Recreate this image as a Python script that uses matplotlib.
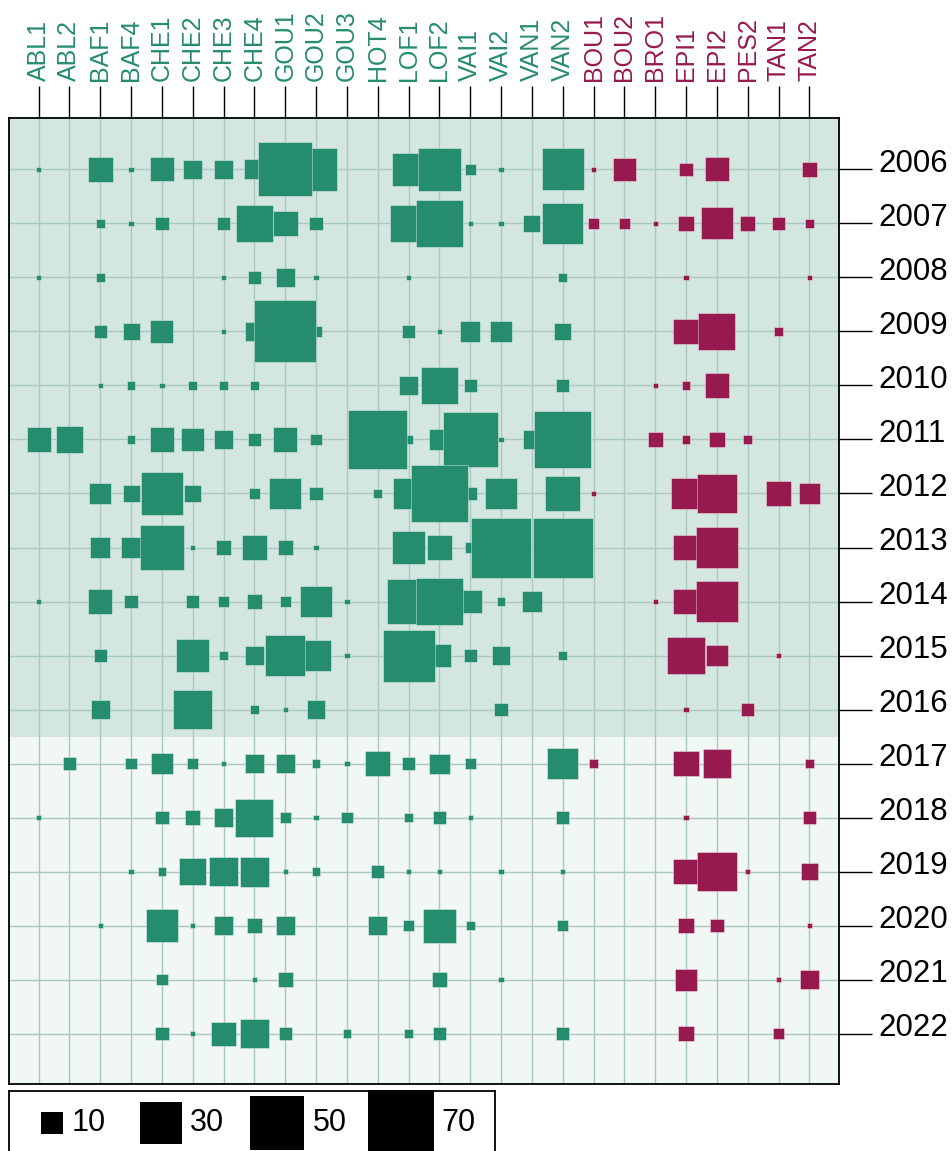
import numpy as np
import matplotlib.pyplot as plt
from matplotlib.transforms import ScaledTranslation

plt.rcParams['font.family'] = ['Liberation Sans', 'DejaVu Sans']

# Sites (columns) and their group: 0 = green sites, 1 = purple sites
sites = ["ABL1", "ABL2", "BAF1", "BAF4", "CHE1", "CHE2", "CHE3", "CHE4",
         "GOU1", "GOU2", "GOU3", "HOT4", "LOF1", "LOF2", "VAI1", "VAI2",
         "VAN1", "VAN2", "BOU1", "BOU2", "BRO1", "EPI1", "EPI2", "PES2",
         "TAN1", "TAN2"]
site_group = [0] * 18 + [1] * 8

years = list(range(2006, 2023))

# counts per year, one value per site (same order as sites)
counts = [
    # ABL1 ABL2 BAF1 BAF4 CHE1 CHE2 CHE3 CHE4 GOU1 GOU2 GOU3 HOT4 LOF1 LOF2 VAI1 VAI2 VAN1 VAN2 BOU1 BOU2 BRO1 EPI1 EPI2 PES2 TAN1 TAN2
    [1, 0, 12, 1, 11, 7, 7, 8, 48, 31, 0, 0, 19, 31, 3, 1, 0, 30, 1, 10, 0, 4, 11, 0, 0, 5],    # 2006
    [0, 0, 2, 1, 4, 0, 4, 23, 12, 4, 0, 0, 24, 38, 1, 1, 6, 29, 3, 3, 1, 5, 18, 5, 4, 2],      # 2007
    [1, 0, 2, 0, 0, 0, 1, 4, 7, 1, 0, 0, 1, 0, 0, 0, 0, 2, 0, 0, 0, 1, 0, 0, 0, 1],           # 2008
    [0, 0, 4, 6, 10, 0, 1, 7, 63, 3, 0, 0, 4, 1, 8, 9, 0, 6, 0, 0, 0, 12, 24, 0, 2, 0],        # 2009
    [0, 0, 1, 2, 1, 2, 2, 2, 0, 0, 0, 0, 7, 23, 4, 0, 0, 4, 0, 0, 1, 2, 11, 0, 0, 0],         # 2010
    [11, 14, 0, 2, 11, 10, 7, 4, 11, 3, 0, 57, 2, 9, 50, 1, 7, 54, 0, 0, 5, 2, 5, 2, 0, 0],   # 2011
    [0, 0, 9, 6, 31, 6, 0, 3, 18, 4, 0, 2, 17, 54, 4, 18, 0, 21, 1, 0, 0, 17, 27, 0, 12, 9],  # 2012
    [0, 0, 8, 8, 33, 1, 5, 12, 5, 1, 0, 0, 20, 12, 3, 59, 0, 59, 0, 0, 0, 12, 30, 0, 0, 0],   # 2013
    [1, 0, 11, 4, 0, 4, 3, 5, 3, 18, 1, 0, 33, 36, 10, 2, 8, 0, 0, 0, 1, 12, 30, 0, 0, 0],    # 2014
    [0, 0, 4, 0, 0, 19, 2, 7, 28, 17, 1, 0, 45, 10, 4, 7, 0, 2, 0, 0, 0, 24, 9, 0, 1, 0],     # 2015
    [0, 0, 7, 0, 0, 26, 0, 2, 1, 7, 0, 0, 0, 0, 0, 4, 0, 0, 0, 0, 0, 1, 0, 4, 0, 0],          # 2016
    [0, 4, 0, 3, 9, 3, 1, 7, 7, 2, 1, 12, 4, 8, 3, 0, 0, 17, 2, 0, 0, 12, 15, 0, 0, 2],       # 2017
    [1, 0, 0, 0, 4, 5, 7, 25, 3, 1, 3, 0, 2, 4, 1, 0, 0, 4, 0, 0, 0, 1, 0, 0, 0, 4],          # 2018
    [0, 0, 0, 1, 2, 13, 15, 16, 1, 2, 0, 4, 1, 1, 0, 1, 0, 1, 0, 0, 0, 12, 27, 1, 0, 6],      # 2019
    [0, 0, 1, 0, 19, 1, 7, 5, 7, 0, 0, 7, 3, 20, 2, 0, 0, 3, 0, 0, 0, 5, 4, 0, 0, 1],         # 2020
    [0, 0, 0, 0, 3, 0, 0, 1, 5, 0, 0, 0, 0, 5, 0, 1, 0, 0, 0, 0, 0, 9, 0, 0, 1, 7],           # 2021
    [0, 0, 0, 0, 4, 1, 11, 15, 4, 0, 2, 0, 2, 4, 0, 0, 0, 4, 0, 0, 0, 5, 0, 0, 3, 0],         # 2022
]

legend_values = [10, 30, 50, 70]

group_colors = ["#268c6e", "#961a4e"]
shade_early = "#d3e6e0"
shade_late = "#f1f7f5"
grid_color = "#a9c8be"
split_year = 2017

W, H, DPI = 953, 1151, 100


def side_px(v):
    # side length of a square marker in pixels
    return 8.2 * np.sqrt(v) - 3.0


def marker_area(v):
    return (side_px(np.asarray(v, dtype=float)) * 72.0 / DPI) ** 2


fig = plt.figure(figsize=(W / DPI, H / DPI), dpi=DPI)
ax = fig.add_axes([9 / W, (H - 1084) / H, 830 / W, 966 / H])

# long format, small squares first so large ones sit on top
xs, ys, vs, cs = [], [], [], []
for yi, row in enumerate(counts):
    for si, v in enumerate(row):
        if v > 0:
            xs.append(si)
            ys.append(years[yi])
            vs.append(v)
            cs.append(group_colors[site_group[si]])
order = np.argsort(vs, kind="stable")
xs = np.array(xs)[order]
ys = np.array(ys)[order]
vs = np.array(vs)[order]
cs = np.array(cs)[order]

ax.scatter(xs, ys, s=marker_area(vs), marker="s", c=cs,
           edgecolors=(1, 1, 1, 0.45), linewidths=0.6, zorder=3)

ax.set_xlim(-0.96, len(sites) - 1 + 0.96)
ax.set_ylim(years[-1] + 0.93, years[0] - 0.95)

ax.axhspan(years[0] - 1, split_year - 0.5, color=shade_early, zorder=0, lw=0)
ax.axhspan(split_year - 0.5, years[-1] + 1, color=shade_late, zorder=0, lw=0)

ax.set_xticks(range(len(sites)))
ax.set_xticklabels(sites)
ax.set_yticks(years)
ax.set_yticklabels([str(y) for y in years])
ax.grid(True, color=grid_color, lw=1.0, zorder=1)
ax.set_axisbelow(True)

ax.xaxis.set_ticks_position("top")
ax.tick_params(axis="x", top=True, bottom=False, labeltop=True, labelbottom=False,
               length=23, width=1.0, pad=3.5, labelsize=18, labelrotation=90)
for tick, lab, g in zip(ax.xaxis.get_major_ticks(), ax.get_xticklabels(), site_group):
    tick.tick2line.set_color(group_colors[g])
    lab.set_color(group_colors[g])

ax.yaxis.set_ticks_position("right")
ax.tick_params(axis="y", left=False, right=True, labelleft=False, labelright=True,
               length=24, width=1.0, pad=4.5, labelsize=22.5)
# year labels sit a little above their tick line
lift = ScaledTranslation(0, 9 / DPI, fig.dpi_scale_trans)
for lab in ax.get_yticklabels():
    lab.set_transform(lab.get_transform() + lift)

for sp in ax.spines.values():
    sp.set_linewidth(1.3)
    sp.set_color("black")

# size legend below the grid
lax = fig.add_axes([9 / W, (H - 1165) / H, 486 / W, 74 / H])
lax.set_xlim(0, 486)
lax.set_ylim(74, 0)
lax.set_xticks([])
lax.set_yticks([])
for sp in lax.spines.values():
    sp.set_linewidth(1.3)
    sp.set_color("black")

cursor = 32
for v in legend_values:
    sd = side_px(v)
    lax.scatter(cursor + sd / 2, 32, s=marker_area(v), marker="s", c="black",
                linewidths=0, clip_on=False)
    lax.text(cursor + sd + 8, 32, str(v), fontsize=22, va="center", ha="left")
    cursor += 0.6 * sd + 85

fig.savefig("out.png", dpi=DPI)
